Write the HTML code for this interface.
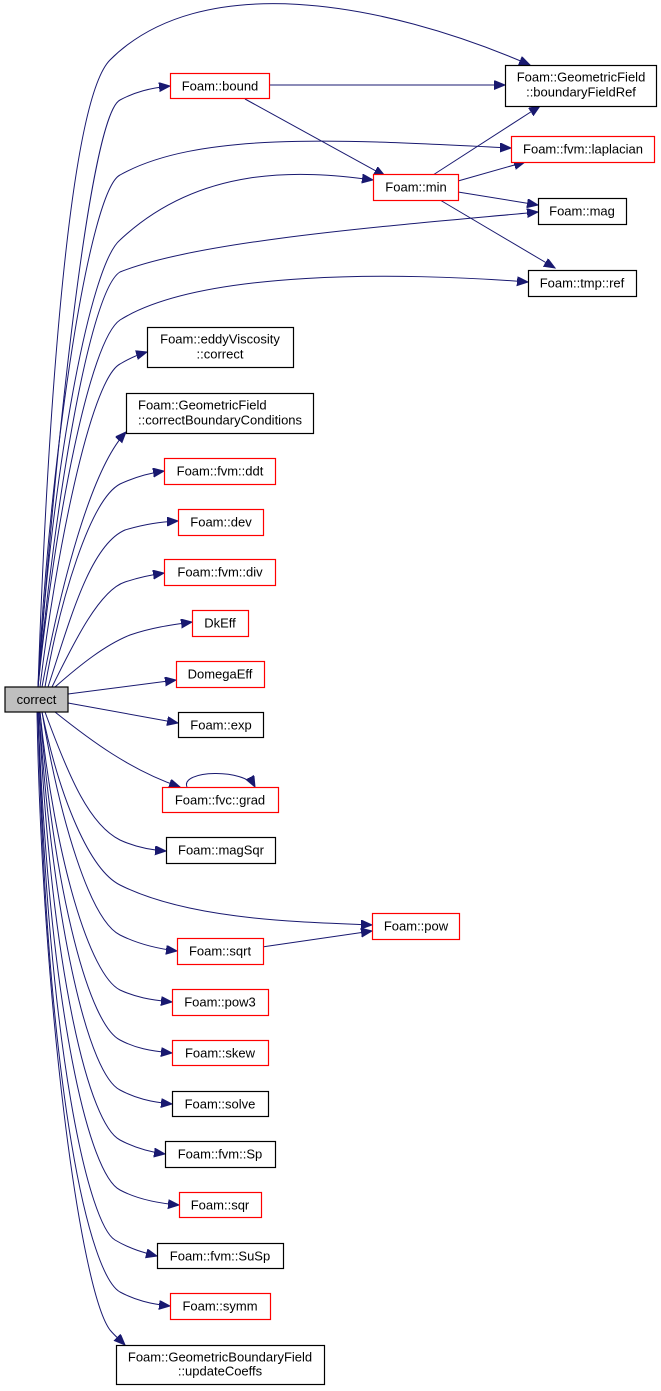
<!DOCTYPE html>
<html><head><meta charset="utf-8"><style>
html,body{margin:0;padding:0;background:#fff;}
svg{display:block;}
text{font-family:"Liberation Sans",sans-serif;font-size:13px;fill:#000;}
.r{fill:#fff;stroke:#ff0000;stroke-width:1.2;}
.b{fill:#fff;stroke:#000;stroke-width:1.2;}
.e{fill:none;stroke:#191970;stroke-width:1;}
</style></head><body>
<svg width="661" height="1391" viewBox="0 0 661 1391" xmlns="http://www.w3.org/2000/svg">
<defs>
<marker id="a" markerUnits="userSpaceOnUse" markerWidth="13" markerHeight="11" refX="11" refY="4.5" orient="auto">
<path d="M0,0 L11,4.5 L0,9 Z" fill="#191970" stroke="#191970"/>
</marker>
</defs>
<g class="e" marker-end="url(#a)">
<path d="M38,687 C48,400 70,100 110,60 C200,-30 380,0 530,65"/>
<path d="M38,687 C55,450 90,115 120,100 C135,92 150,88 170,86"/>
<path d="M38,687 C50,450 90,190 120,175 C200,130 350,140 511,148"/>
<path d="M38,687 C52,470 90,265 120,240 C200,165 300,170 373,180"/>
<path d="M38,687 C55,500 90,290 120,272 C200,240 400,225 538,212"/>
<path d="M38,687 C55,520 90,340 120,320 C200,270 400,272 528,282"/>
<path d="M40,687 C55,560 90,380 120,364 C130,358 140,354 147,352"/>
<path d="M42,687 C60,590 90,470 126,432"/>
<path d="M45,687 C60,600 90,500 120,484 C135,477 150,473 164,471"/>
<path d="M48,687 C70,620 90,545 125,530 C145,524 160,522 178,521"/>
<path d="M52,687 C75,640 100,590 125,582 C140,577 150,575 164,573"/>
<path d="M55,687 C80,665 105,645 130,635 C150,628 170,625 192,622"/>
<path d="M68,694 L176,680"/>
<path d="M68,703 L178,723"/>
<path d="M55,712 C90,740 130,770 180,787"/>
<path d="M45,712 C70,780 90,825 120,840 C135,847 150,850 166,851"/>
<path d="M42,712 C60,800 90,870 120,885 C190,920 300,922 372,925"/>
<path d="M42,712 C60,820 90,920 120,935 C140,945 160,949 177,951"/>
<path d="M40,712 C55,860 90,975 120,990 C135,997 150,1000 172,1002"/>
<path d="M40,712 C55,900 90,1025 120,1040 C135,1048 150,1051 172,1053"/>
<path d="M39,712 C55,940 90,1075 120,1090 C135,1098 150,1102 172,1104"/>
<path d="M39,712 C52,980 90,1125 120,1140 C135,1148 150,1152 165,1154"/>
<path d="M38,712 C50,1020 90,1175 120,1190 C135,1198 155,1203 179,1205"/>
<path d="M38,712 C48,1060 90,1225 115,1240 C130,1249 145,1253 157,1256"/>
<path d="M38,712 C47,1100 90,1275 120,1292 C135,1300 150,1304 170,1306"/>
<path d="M37,712 C42,1000 80,1290 110,1330 C115,1336 120,1340 125,1345"/>
<path d="M270,85 L505,85"/>
<path d="M245,99 L385,176"/>
<path d="M433,175 L540,106"/>
<path d="M458,181 L525,162"/>
<path d="M458,192 L538,205"/>
<path d="M440,200 L555,268"/>
<path d="M262,947 L372,931"/>
<path d="M187,787 C180,770 245,768 255,787"/>
</g>
<g>
<rect x="5" y="687" width="63" height="25" fill="#bfbfbf" stroke="#000" stroke-width="1.2"/><text x="36.5" y="704" text-anchor="middle">correct</text>
<rect class="r" x="170.5" y="73.5" width="99" height="25"/><text x="220" y="90.5" text-anchor="middle">Foam::bound</text>
<rect class="b" x="505.5" y="65.5" width="151" height="41"/><text x="581" y="81.5" text-anchor="middle">Foam::GeometricField</text><text x="581" y="96.5" text-anchor="middle">::boundaryFieldRef</text>
<rect class="r" x="511.5" y="136.5" width="143" height="26"/><text x="583" y="153.5" text-anchor="middle">Foam::fvm::laplacian</text>
<rect class="r" x="373.5" y="174.5" width="85" height="26"/><text x="416" y="191.5" text-anchor="middle">Foam::min</text>
<rect class="b" x="538.5" y="198.5" width="88" height="26"/><text x="582" y="215.5" text-anchor="middle">Foam::mag</text>
<rect class="b" x="528.5" y="270.5" width="108" height="26"/><text x="582" y="287.5" text-anchor="middle">Foam::tmp::ref</text>
<rect class="b" x="147.5" y="327.5" width="146" height="40"/><text x="220" y="343.5" text-anchor="middle">Foam::eddyViscosity</text><text x="220" y="358.5" text-anchor="middle">::correct</text>
<rect class="b" x="126.5" y="393.5" width="187" height="40"/><text x="138" y="409.5">Foam::GeometricField</text><text x="138" y="424.5">::correctBoundaryConditions</text>
<rect class="r" x="164.5" y="458.5" width="111" height="26"/><text x="220" y="475.5" text-anchor="middle">Foam::fvm::ddt</text>
<rect class="r" x="178.5" y="509.5" width="85" height="26"/><text x="221" y="526.5" text-anchor="middle">Foam::dev</text>
<rect class="r" x="164.5" y="559.5" width="111" height="26"/><text x="220" y="576.5" text-anchor="middle">Foam::fvm::div</text>
<rect class="r" x="192.5" y="610.5" width="56" height="26"/><text x="220" y="627.5" text-anchor="middle">DkEff</text>
<rect class="r" x="176.5" y="661.5" width="88" height="26"/><text x="220" y="678.5" text-anchor="middle">DomegaEff</text>
<rect class="b" x="178.5" y="712.5" width="85" height="25"/><text x="221" y="729.5" text-anchor="middle">Foam::exp</text>
<rect class="r" x="162.5" y="787.5" width="116" height="25"/><text x="220" y="804.5" text-anchor="middle">Foam::fvc::grad</text>
<rect class="b" x="166.5" y="837.5" width="109" height="26"/><text x="221" y="854.5" text-anchor="middle">Foam::magSqr</text>
<rect class="r" x="372.5" y="913.5" width="87" height="26"/><text x="416" y="930.5" text-anchor="middle">Foam::pow</text>
<rect class="r" x="177.5" y="938.5" width="86" height="26"/><text x="220" y="955.5" text-anchor="middle">Foam::sqrt</text>
<rect class="r" x="172.5" y="989.5" width="96" height="26"/><text x="220" y="1006.5" text-anchor="middle">Foam::pow3</text>
<rect class="r" x="172.5" y="1040.5" width="96" height="25"/><text x="220" y="1057.5" text-anchor="middle">Foam::skew</text>
<rect class="b" x="172.5" y="1091.5" width="96" height="25"/><text x="220" y="1108.5" text-anchor="middle">Foam::solve</text>
<rect class="b" x="165.5" y="1141.5" width="110" height="26"/><text x="220" y="1158.5" text-anchor="middle">Foam::fvm::Sp</text>
<rect class="r" x="179.5" y="1192.5" width="82" height="25"/><text x="220" y="1209.5" text-anchor="middle">Foam::sqr</text>
<rect class="b" x="157.5" y="1243.5" width="126" height="25"/><text x="220" y="1260.5" text-anchor="middle">Foam::fvm::SuSp</text>
<rect class="r" x="170.5" y="1293.5" width="100" height="26"/><text x="220" y="1310.5" text-anchor="middle">Foam::symm</text>
<rect class="b" x="116.5" y="1345.5" width="208" height="39"/><text x="220" y="1361.5" text-anchor="middle">Foam::GeometricBoundaryField</text><text x="220" y="1375.5" text-anchor="middle">::updateCoeffs</text>
</g>
</svg>
</body></html>
